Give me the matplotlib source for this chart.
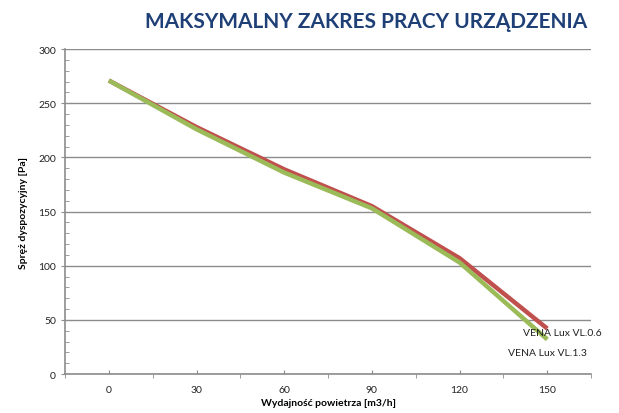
import matplotlib.pyplot as plt
import numpy as np

# data
airflow = [0, 30, 60, 90, 120, 150]
press_vl06 = [271, 228, 189, 155, 107, 42]
press_vl13 = [271, 226, 186, 153, 103, 32]
series_names = ['VENA Lux VL.0.6', 'VENA Lux VL.1.3']

title = 'MAKSYMALNY ZAKRES PRACY URZĄDZENIA'
xlabel = 'Wydajność powietrza [m3/h]'
ylabel = 'Spręż dyspozycyjny [Pa]'

plt.rcParams['font.family'] = ['Lato', 'DejaVu Sans']

gray = '#8c8c8c'
red = '#c0504d'
green = '#9bbb59'

fig = plt.figure(figsize=(6.19, 4.14), dpi=100)
ax = fig.add_axes([0.105, 0.094, 0.850, 0.785])

ax.plot(airflow, press_vl06, color=red, lw=3.2, solid_capstyle='butt', zorder=3)
ax.plot(airflow, press_vl13, color=green, lw=3.2, solid_capstyle='butt', zorder=4)

# series labels at the line ends
ax.text(airflow[-1] + 5, press_vl06[-1] - 4, series_names[0], ha='center', va='center',
        fontsize=7.5, color='#222222', zorder=5)
ax.text(airflow[-1], press_vl13[-1] - 12, series_names[1], ha='center', va='center',
        fontsize=7.5, color='#222222', zorder=5)

ax.set_xlim(-15, 165)
ax.set_ylim(0, 300)

ax.set_xticks(np.arange(0, 151, 30))
ax.set_xticks(np.arange(-15, 166, 30), minor=True)
ax.set_yticks(np.arange(0, 301, 50))
ax.set_yticks(np.arange(0, 301, 10), minor=True)

ax.tick_params(axis='x', which='major', direction='in', length=3, color=gray,
               labelsize=7.5, pad=8, labelcolor='#222222')
ax.tick_params(axis='x', which='minor', direction='out', length=3, color=gray)
ax.tick_params(axis='y', which='major', direction='out', length=3, color=gray,
               labelsize=7.5, labelcolor='#222222')
ax.tick_params(axis='y', which='minor', direction='in', length=3, color=gray)

ax.grid(axis='y', which='major', color=gray, lw=1)
for s in ['top', 'right']:
    ax.spines[s].set_visible(False)
for s in ['left', 'bottom']:
    ax.spines[s].set_color(gray)
    ax.spines[s].set_linewidth(1.2)

ax.set_xlabel(xlabel, fontsize=7.5, fontweight='bold', labelpad=3)
ax.set_ylabel(ylabel, fontsize=7.5, fontweight='bold', labelpad=7)

fig.text(0.592, 0.948, title, ha='center', va='center', fontsize=15,
         fontweight='bold', color='#1f3f77')

fig.savefig('out.png', dpi=100)
